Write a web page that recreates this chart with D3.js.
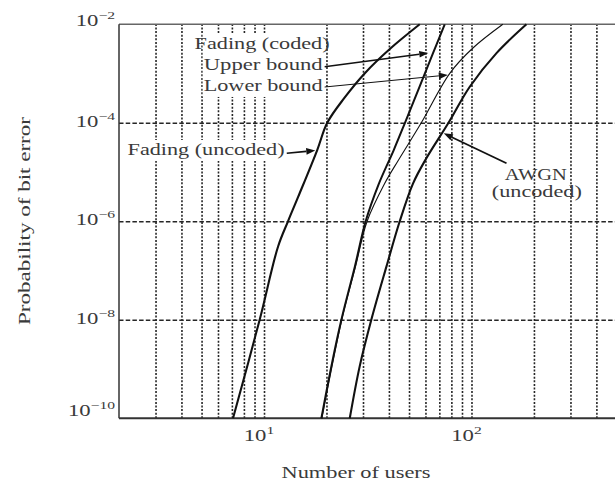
<!DOCTYPE html>
<html><head><meta charset="utf-8">
<script src="https://cdn.jsdelivr.net/npm/d3@7"></script>
<style>html,body{margin:0;padding:0;background:#fff;} svg{display:block;}</style>
</head><body><svg id="c" width="615" height="482"></svg>
<script>
// ---------- data ----------
const fadingUncodedUsers = [7.09, 9.53, 11.68, 13.05, 14.62, 18.05, 20.17, 24.4, 30.7, 40.4, 56.3];
const fadingUncodedPe    = [1e-10, 1e-8, 3.05e-7, 1e-6, 3.16e-6, 2.8e-5, 1e-4, 3.2e-4, 1.03e-3, 3.15e-3, 1e-2];

const upperBoundUsers = [18.9, 21.1, 23.6, 27.4, 30.9, 35.6, 42.2, 47.8, 65.4, 74.3];
const upperBoundPe    = [1e-10, 1.12e-9, 1e-8, 1.2e-7, 1e-6, 5.5e-6, 2.8e-5, 1e-4, 2.65e-3, 1e-2];

const lowerBoundUsers = [19.0, 23.7, 27.6, 31.4, 38.2, 44.5, 57.3, 78.6, 101.3, 141.6];
const lowerBoundPe    = [1e-10, 1e-8, 1.2e-7, 1e-6, 5.9e-6, 1.76e-5, 1e-4, 1.01e-3, 3.26e-3, 1e-2];

const awgnUsers = [25.9, 28.9, 32.9, 38.9, 45.1, 52.3, 60.7, 77.5, 98.1, 132, 184];
const awgnPe    = [1e-10, 1.12e-9, 1e-8, 1.2e-7, 1e-6, 5.9e-6, 1.93e-5, 1e-4, 5.4e-4, 2.6e-3, 1e-2];

const xGridValues = [3,4,5,6,7,8,9,10,20,30,40,50,60,70,80,90,100,200,300,400];
const yGridValues = [1e-4, 1e-6, 1e-8];
const xTickValues = [10, 100];
const xTickExponents = ["1", "2"];
const yTickValues = [1e-2, 1e-4, 1e-6, 1e-8, 1e-10];
const yTickExponents = ["\u22122", "\u22124", "\u22126", "\u22128", "\u221210"];

const xTitle = "Number of users";
const yTitle = "Probability of bit error";

// annotation texts and anchor points (in data units)
const noteTexts = ["Fading (coded)", "Upper bound", "Lower bound", "Fading (uncoded)", "AWGN", "(uncoded)"];
const noteUsers = [4.63, 5.12, 5.12, 2.20, 144.7, 125.3];
const notePe    = [3.15e-3, 1.18e-3, 4.43e-4, 2.22e-5, 6.9e-6, 3.11e-6];

// arrows: tail -> tip (data units)
const arrowTailUsers = [19.6, 19.6, 12.87, 147.5];
const arrowTailPe    = [1.38e-3, 5.33e-4, 2.4e-5, 1.51e-5];
const arrowTipUsers  = [61.9, 76.9, 17.66, 73.5];
const arrowTipPe     = [2.61e-3, 9.35e-4, 2.74e-5, 6.1e-5];

// ---------- layout / style ----------
const FONT = "'Liberation Serif','Times New Roman',serif";
const TXT = "#3a3a3a";
const M = { left: 119, right: 616.5, top: 24.3, bottom: 418.3 };
const noteWidths = [135, 119, 119, 157, 62, 90];
const arrowWidths = [1.5, 1.0, 1.6, 1.8];
const SX = 1.42;

const svg = d3.select("#c");
svg.append("rect").attr("width", 615).attr("height", 482).attr("fill", "#fff");

const x = d3.scaleLog().domain([2, 500]).range([M.left, M.right]);
const y = d3.scaleLog().domain([1e-10, 1e-2]).range([M.bottom, M.top]);

// vertical grid (dotted) via axis
const gx = svg.append("g").attr("transform", `translate(0,${M.bottom})`)
  .call(d3.axisBottom(x).tickValues(xGridValues).tickSize(-(M.bottom - M.top)).tickFormat(""));
gx.select(".domain").remove();
gx.selectAll(".tick line").attr("stroke", "#262626").attr("stroke-width", 1.6)
  .attr("stroke-dasharray", "2,1.6");

// horizontal grid (dashed) via axis
const gy = svg.append("g").attr("transform", `translate(${M.left},0)`)
  .call(d3.axisLeft(y).tickValues(yGridValues).tickSize(-(M.right - M.left)).tickFormat(""));
gy.select(".domain").remove();
gy.selectAll(".tick line").attr("stroke", "#262626").attr("stroke-width", 1.5)
  .attr("stroke-dasharray", "4.5,2.2");

// frame
svg.append("line").attr("x1", M.left).attr("x2", M.right).attr("y1", M.top).attr("y2", M.top)
  .attr("stroke", "#666").attr("stroke-width", 1.5);
svg.append("line").attr("x1", M.left).attr("x2", M.left).attr("y1", M.top).attr("y2", M.bottom)
  .attr("stroke", "#333").attr("stroke-width", 1.5);
svg.append("line").attr("x1", M.left).attr("x2", M.right).attr("y1", M.bottom).attr("y2", M.bottom)
  .attr("stroke", "#333").attr("stroke-width", 2);

// annotation text
const noteG = svg.append("g");
const notes = noteTexts.map((t, i) =>
  noteG.append("text")
    .attr("x", x(noteUsers[i])).attr("y", y(notePe[i]))
    .attr("font-family", FONT).attr("font-size", 16).attr("fill", TXT)
    .attr("textLength", noteWidths[i]).attr("lengthAdjust", "spacingAndGlyphs")
    .text(t));

// white backgrounds behind label blocks
const boxG = svg.insert("g", () => noteG.node());
const b0 = notes[0].node().getBBox(), b1 = notes[1].node().getBBox(), b2 = notes[2].node().getBBox();
boxG.append("rect").attr("x", b1.x - 1).attr("y", b0.y - 1)
  .attr("width", b1.width + 1).attr("height", (b2.y + b2.height + 3) - (b0.y - 1)).attr("fill", "#fff");
const b3 = notes[3].node().getBBox();
boxG.append("rect").attr("x", b3.x - 2).attr("y", b3.y - 1)
  .attr("width", b3.width + 3).attr("height", b3.height + 3).attr("fill", "#fff");

// curves
const line = d3.line().x(d => x(d[0])).y(d => y(d[1])).curve(d3.curveCatmullRom.alpha(0.5));
const series = [
  [fadingUncodedUsers, fadingUncodedPe, 2.1],
  [upperBoundUsers, upperBoundPe, 2.0],
  [lowerBoundUsers, lowerBoundPe, 1.1],
  [awgnUsers, awgnPe, 2.1]
];
const curveG = svg.insert("g", () => noteG.node());
series.forEach(([xs, ys, w]) => {
  curveG.append("path").datum(xs.map((v, i) => [v, ys[i]]))
    .attr("d", line).attr("fill", "none").attr("stroke", "#111").attr("stroke-width", w)
    .attr("stroke-linejoin", "round");
});

// arrows
const arrowG = svg.append("g");
arrowTailUsers.forEach((_, i) => {
  const x0 = x(arrowTailUsers[i]), y0 = y(arrowTailPe[i]);
  const x1 = x(arrowTipUsers[i]), y1 = y(arrowTipPe[i]);
  const a = Math.atan2(y1 - y0, x1 - x0);
  const L = 9, H = 3.3;
  const bx = x1 - L * Math.cos(a), by = y1 - L * Math.sin(a);
  arrowG.append("line").attr("x1", x0).attr("y1", y0).attr("x2", bx).attr("y2", by)
    .attr("stroke", "#111").attr("stroke-width", arrowWidths[i]);
  arrowG.append("path")
    .attr("d", `M${x1},${y1}L${bx + H * Math.sin(a)},${by - H * Math.cos(a)}L${bx - H * Math.sin(a)},${by + H * Math.cos(a)}Z`)
    .attr("fill", "#111");
});

// tick labels 10^k
function powLabel(px, py, anchor, exp) {
  const g = svg.append("g").attr("transform", `translate(${px},${py}) scale(${SX},1)`);
  const t = g.append("text").attr("text-anchor", anchor).attr("font-family", FONT)
    .attr("font-size", 16).attr("fill", TXT);
  t.append("tspan").text("10");
  t.append("tspan").attr("font-size", 11).attr("dy", -7).text(exp);
}
yTickValues.forEach((v, i) => {
  const off = i === 0 ? 2 : (i === yTickValues.length - 1 ? -2 : 4);
  powLabel(115, y(v) + off, "end", yTickExponents[i]);
});
xTickValues.forEach((v, i) => {
  powLabel(x(v) - 5, M.bottom + 23, "middle", xTickExponents[i]);
});

// axis titles
svg.append("text").attr("x", 356).attr("y", 478).attr("text-anchor", "middle")
  .attr("font-family", FONT).attr("font-size", 16).attr("fill", TXT)
  .attr("textLength", 149).attr("lengthAdjust", "spacingAndGlyphs").text(xTitle);
svg.append("text").attr("transform", `translate(30,221) rotate(-90)`).attr("text-anchor", "middle")
  .attr("font-family", FONT).attr("font-size", 16).attr("fill", TXT)
  .attr("textLength", 208).attr("lengthAdjust", "spacingAndGlyphs").text(yTitle);
</script></body></html>
